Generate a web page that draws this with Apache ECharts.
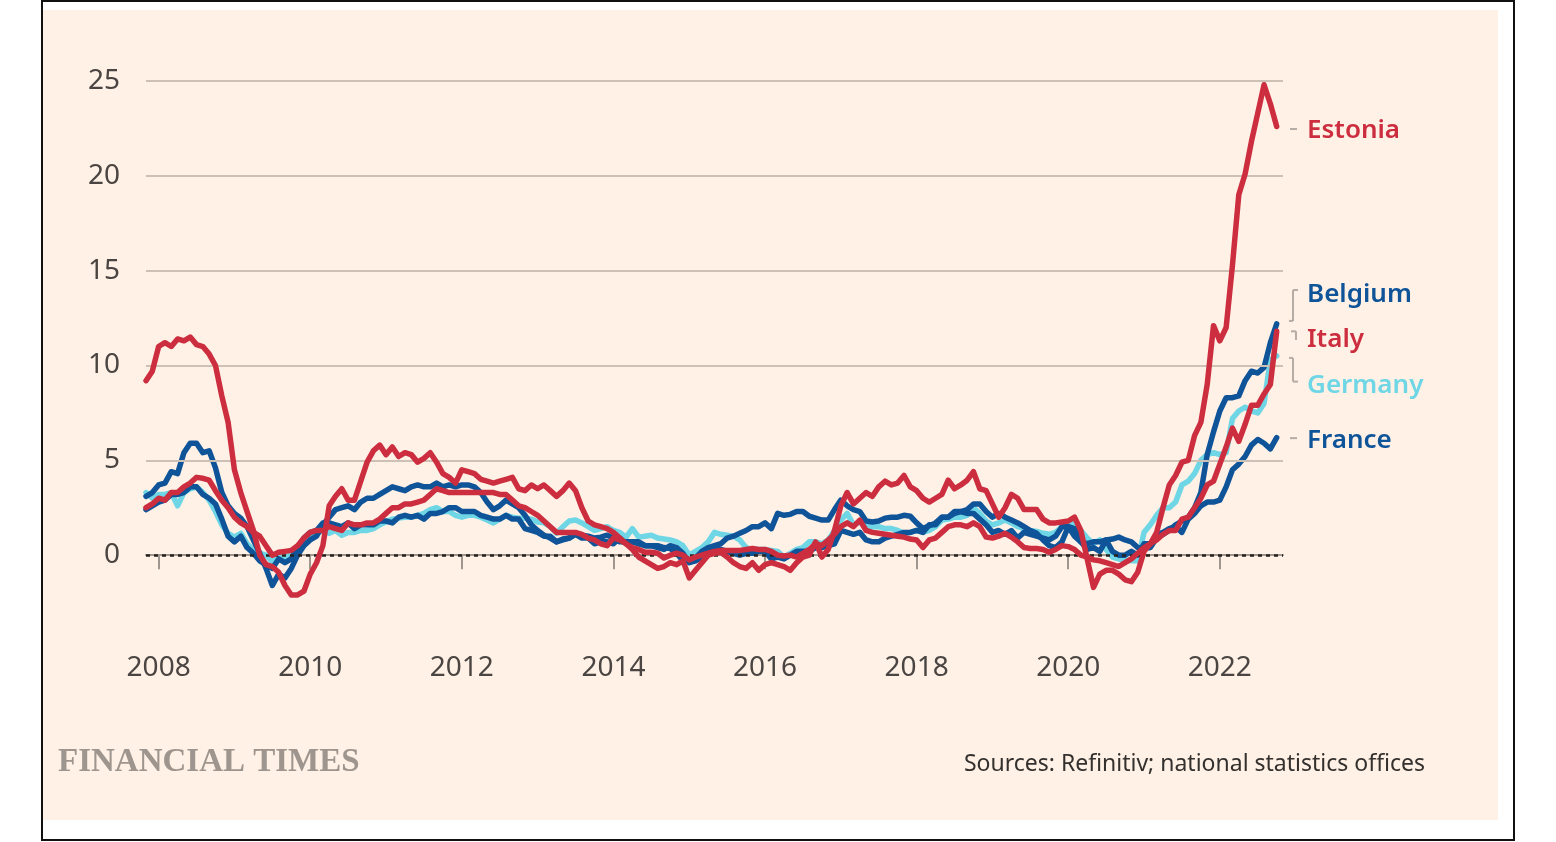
<!DOCTYPE html>
<html><head><meta charset="utf-8">
<script src="https://cdn.jsdelivr.net/npm/echarts@6/dist/echarts.min.js"></script>
<style>
html,body{margin:0;padding:0;width:1556px;height:842px;background:#fff;overflow:hidden}
#frame{position:absolute;left:41px;top:0;width:1474px;height:841px;box-sizing:border-box;border:2px solid #111;}
#paper{position:absolute;left:43px;top:10px;width:1455px;height:810px;background:#fff1e5}
#chart{position:absolute;left:0;top:0;width:1556px;height:842px}
</style></head>
<body><div id="frame"></div><div id="paper"></div><div id="chart"></div>
<script>
// First observation: November 2007, monthly to October 2022
const startYear = 2007, startMonth = 11;

const estonia = [
  9.2, 9.7,
  11.0, 11.2, 11.0, 11.4, 11.3, 11.5, 11.1, 11.0, 10.6, 10.0, 8.4, 7.0,
  4.5, 3.3, 2.3, 1.3, 0.0, -0.5, -0.6, -0.9, -1.6, -2.1, -2.1, -1.9,
  -1.0, -0.4, 0.5, 2.6, 3.1, 3.5, 2.9, 2.9, 3.9, 4.9, 5.5, 5.8,
  5.3, 5.7, 5.2, 5.4, 5.3, 4.9, 5.1, 5.4, 4.9, 4.3, 4.1, 3.8,
  4.5, 4.4, 4.3, 4.0, 3.9, 3.8, 3.9, 4.0, 4.1, 3.5, 3.4, 3.7,
  3.5, 3.7, 3.4, 3.1, 3.4, 3.8, 3.4, 2.5, 1.8, 1.6, 1.5, 1.4,
  1.2, 0.9, 0.6, 0.3, -0.1, -0.3, -0.5, -0.7, -0.6, -0.4, -0.5, -0.3,
  -1.2, -0.8, -0.4, 0.0, 0.1, 0.15, -0.1, -0.4, -0.6, -0.7, -0.4, -0.8,
  -0.5, -0.4, -0.5, -0.6, -0.8, -0.4, -0.1, 0.0, 0.7, -0.1, 0.3, 1.3,
  2.6, 3.3, 2.7, 3.0, 3.3, 3.1, 3.6, 3.9, 3.7, 3.8, 4.2, 3.6,
  3.4, 3.0, 2.8, 3.0, 3.2, 3.95, 3.5, 3.7, 3.95, 4.4, 3.5, 3.4,
  2.7, 2.0, 2.5, 3.2, 3.0, 2.4, 2.4, 2.4, 1.9, 1.7, 1.7, 1.75,
  1.8, 2.0, 1.3, -0.2, -1.7, -1.0, -0.8, -0.8, -1.0, -1.3, -1.4, -0.9,
  0.2, 0.6, 1.2, 2.5, 3.7, 4.2, 4.9, 5.0, 6.3, 7.0, 9.0, 12.1,
  11.3, 12.0, 15.3, 19.0, 20.1, 21.8, 23.3, 24.8, 23.8, 22.6
];
const italy = [
  2.5, 2.7,
  3.0, 2.9, 3.3, 3.3, 3.6, 3.8, 4.1, 4.05, 3.95, 3.4, 2.9, 2.5,
  2.0, 1.7, 1.5, 1.2, 1.0, 0.5, 0.0, 0.15, 0.2, 0.25, 0.5, 0.9,
  1.2, 1.3, 1.3, 1.5, 1.4, 1.3, 1.7, 1.6, 1.6, 1.7, 1.7, 1.9,
  2.2, 2.5, 2.5, 2.7, 2.7, 2.8, 2.9, 3.2, 3.5, 3.4, 3.3, 3.3,
  3.3, 3.3, 3.3, 3.3, 3.3, 3.3, 3.2, 3.2, 2.9, 2.6, 2.5, 2.3,
  2.1, 1.8, 1.5, 1.2, 1.2, 1.2, 1.2, 1.1, 0.9, 0.8, 0.6, 0.5,
  0.9, 0.8, 0.6, 0.4, 0.3, 0.15, 0.15, 0.1, -0.15, 0.0, 0.1, 0.0,
  -0.25, -0.1, 0.0, 0.1, 0.2, 0.25, 0.25, 0.25, 0.25, 0.3, 0.35, 0.3,
  0.3, 0.2, 0.0, -0.05, 0.0, -0.1, 0.1, 0.3, 0.6, 0.5, 0.8, 1.1,
  1.5, 1.7, 1.5, 1.85, 1.3, 1.2, 1.15, 1.1, 1.05, 1.0, 0.95, 0.85,
  0.8, 0.4, 0.8, 0.9, 1.2, 1.5, 1.6, 1.6, 1.5, 1.7, 1.5, 0.95,
  0.9, 1.0, 1.15, 0.95, 0.7, 0.4, 0.35, 0.35, 0.3, 0.15, 0.3, 0.5,
  0.45, 0.3, 0.0, -0.1, -0.25, -0.3, -0.4, -0.5, -0.6, -0.4, -0.2, 0.1,
  0.4, 0.6, 0.8, 1.1, 1.3, 1.3, 1.9, 2.0, 2.5, 3.0, 3.7, 3.9,
  4.8, 5.7, 6.7, 6.0, 6.9, 7.9, 7.9, 8.5, 9.0, 11.8
];
const belgium = [
  3.1, 3.3,
  3.7, 3.8, 4.4, 4.3, 5.4, 5.9, 5.9, 5.4, 5.5, 4.6, 3.3, 2.6,
  2.2, 1.95, 1.5, 0.8, 0.1, -0.7, -1.6, -1.0, -1.2, -0.7, 0.0, 0.5,
  0.8, 1.0, 1.6, 2.0, 2.4, 2.5, 2.6, 2.4, 2.8, 3.0, 3.0, 3.2,
  3.4, 3.6, 3.5, 3.4, 3.6, 3.7, 3.6, 3.6, 3.8, 3.6, 3.7, 3.6,
  3.7, 3.7, 3.6, 3.3, 2.8, 2.4, 2.6, 2.9, 2.7, 2.5, 2.1, 1.6,
  1.3, 1.05, 0.9, 0.7, 0.85, 0.9, 1.15, 1.05, 1.0, 0.9, 0.95, 1.05,
  0.9, 0.7, 0.7, 0.7, 0.6, 0.5, 0.5, 0.5, 0.4, 0.35, 0.1, -0.3,
  -0.3, -0.15, 0.2, 0.4, 0.5, 0.6, 0.9, 1.0, 1.15, 1.3, 1.5, 1.5,
  1.7, 1.4, 2.2, 2.1, 2.15, 2.3, 2.3, 2.05, 1.95, 1.85, 1.85, 2.4,
  2.9, 2.6, 2.4, 2.3, 1.8, 1.75, 1.8, 1.95, 2.0, 2.0, 2.1, 2.05,
  1.7, 1.4, 1.55, 1.7, 2.0, 2.0, 2.2, 2.3, 2.4, 2.7, 2.7, 2.3,
  2.0, 2.2, 2.0, 1.85, 1.7, 1.5, 1.3, 1.15, 0.8, 0.5, 0.4, 0.7,
  1.5, 1.0, 0.7, 0.6, 0.7, 0.7, 0.8, 0.85, 0.95, 0.8, 0.7, 0.4,
  0.35, 0.4, 0.9, 1.1, 1.3, 1.6, 1.8, 2.0, 2.5, 3.3, 5.3, 6.5,
  7.6, 8.3, 8.3, 8.4, 9.2, 9.7, 9.6, 9.9, 11.2, 12.2
];
const france = [
  2.4, 2.6,
  2.8, 2.9, 3.2, 3.2, 3.3, 3.6, 3.6, 3.2, 3.0, 2.7, 1.9, 1.0,
  0.7, 1.0, 0.4, 0.1, -0.3, -0.5, -0.7, -0.2, -0.4, -0.2, 0.4, 0.9,
  1.2, 1.3, 1.7, 1.7, 1.6, 1.5, 1.7, 1.4, 1.6, 1.6, 1.6, 1.8,
  1.8, 1.7, 2.0, 2.1, 2.0, 2.1, 1.9, 2.2, 2.2, 2.3, 2.5, 2.5,
  2.3, 2.3, 2.3, 2.1, 2.0, 1.9, 1.9, 2.1, 1.9, 1.9, 1.4, 1.3,
  1.2, 1.0, 1.0, 0.7, 0.8, 0.9, 1.1, 0.9, 0.9, 0.6, 0.7, 0.7,
  0.6, 0.9, 0.6, 0.7, 0.7, 0.5, 0.5, 0.4, 0.3, 0.5, 0.4, 0.1,
  -0.4, -0.3, -0.1, 0.1, 0.3, 0.3, 0.2, 0.1, 0.0, 0.1, 0.1, 0.2,
  0.2, -0.2, -0.1, -0.2, 0.0, 0.2, 0.2, 0.2, 0.4, 0.4, 0.5, 0.6,
  1.3, 1.2, 1.1, 1.2, 0.8, 0.7, 0.7, 0.9, 1.0, 1.1, 1.2, 1.2,
  1.3, 1.2, 1.6, 1.6, 2.0, 2.0, 2.3, 2.3, 2.2, 2.2, 1.9, 1.6,
  1.2, 1.3, 1.1, 1.3, 0.9, 1.2, 1.1, 1.0, 0.9, 0.8, 1.0, 1.5,
  1.5, 1.4, 0.7, 0.3, 0.4, 0.2, 0.8, 0.2, 0.0, 0.0, 0.2, 0.0,
  0.6, 0.6, 1.1, 1.2, 1.4, 1.5, 1.2, 1.9, 2.2, 2.6, 2.8, 2.8,
  2.9, 3.6, 4.5, 4.8, 5.2, 5.8, 6.1, 5.9, 5.6, 6.2
];
const germany = [
  3.3, 3.0,
  3.2, 3.2, 3.3, 2.6, 3.3, 3.5, 3.6, 3.3, 2.9, 2.3, 1.6, 1.15,
  0.95, 1.15, 0.6, 0.25, 0.1, 0.0, -0.35, -0.1, -0.25, 0.1, 0.4, 0.7,
  0.95, 1.15, 1.3, 1.15, 1.3, 1.05, 1.2, 1.2, 1.3, 1.3, 1.4, 1.6,
  1.75, 1.9, 1.95, 2.0, 2.0, 2.1, 2.2, 2.4, 2.5, 2.3, 2.3, 2.1,
  2.0, 2.1, 2.1, 2.0, 1.85, 1.7, 1.9, 2.1, 2.0, 1.95, 1.95, 1.9,
  1.75, 1.7, 1.5, 1.15, 1.5, 1.8, 1.85, 1.7, 1.5, 1.3, 1.4, 1.5,
  1.3, 1.2, 0.95, 1.4, 0.95, 1.0, 1.05, 0.9, 0.85, 0.8, 0.7, 0.5,
  0.0, 0.2, 0.4, 0.7, 1.2, 1.1, 1.05, 1.0, 0.8, 0.4, 0.3, 0.3,
  0.3, 0.25, 0.2, -0.1, 0.1, 0.3, 0.4, 0.7, 0.7, 0.6, 0.8, 1.3,
  1.85, 2.2, 1.6, 1.75, 1.5, 1.5, 1.5, 1.4, 1.4, 1.3, 1.15, 1.2,
  1.3, 1.2, 1.3, 1.5, 1.85, 1.9, 2.0, 2.0, 2.1, 2.5, 2.2, 1.8,
  1.6, 1.7, 1.85, 1.7, 1.5, 1.4, 1.3, 1.25, 1.15, 1.1, 1.2, 1.5,
  1.6, 1.7, 1.3, 0.9, 0.6, 0.8, 0.3, -0.1, -0.2, -0.25, -0.3, -0.3,
  1.2, 1.6, 2.1, 2.5, 2.5, 2.8, 3.7, 3.9, 4.3, 5.0, 5.3, 5.4,
  5.3, 5.4, 7.2, 7.6, 7.8, 7.6, 7.5, 8.0, 10.3, 10.5
];

const yearTicks = [2008, 2010, 2012, 2014, 2016, 2018, 2020, 2022];
const valueTicks = [0, 5, 10, 15, 20, 25];
const gridValues = [5, 10, 15, 20, 25];
const zeroValue = 0;

// Right-hand labels and the values they sit at
const labelNames = ['Estonia', 'Belgium', 'Italy', 'Germany', 'France'];
const labelValues = [22.47, 13.82, 11.45, 9.07, 6.17];

const RED = '#cc2e40', DARK = '#0f5499', LIGHT = '#6fd6e6';
const TXT = '#4a4542';

function toXY(arr) {
  const t0 = startYear + (startMonth - 1) / 12;
  return arr.map((v, i) => [t0 + i / 12, v]);
}
const xMin = startYear + (startMonth - 1) / 12;
const xMax = xMin + 15;

const chart = echarts.init(document.getElementById('chart'), null, {renderer: 'canvas'});
const lineSeries = (name, data, color, z) => ({
  name, type: 'line', data: toXY(data), showSymbol: false, symbol: 'none',
  z, lineStyle: {color, width: 5.5, cap: 'round', join: 'round'}, animation: false, silent: true
});

chart.setOption({
  animation: false,
  backgroundColor: 'transparent',
  grid: {left: 146, right: 273, top: 81, bottom: 211, containLabel: false},
  xAxis: {
    type: 'value', min: xMin, max: xMax,
    axisLine: {show: true, lineStyle: {color: '#9f968f', width: 2}},
    axisTick: {show: true, customValues: yearTicks, length: 14, lineStyle: {color: '#9f968f', width: 2}},
    axisLabel: {customValues: yearTicks, formatter: v => String(Math.round(v)), fontSize: 28,
      fontFamily: 'Noto Sans', color: TXT, margin: 23},
    splitLine: {show: false}
  },
  yAxis: {
    type: 'value', min: -4, max: 25,
    axisLine: {show: false}, axisTick: {show: false}, splitLine: {show: false},
    axisLabel: {customValues: valueTicks, fontSize: 28, fontFamily: 'Noto Sans', color: TXT, margin: 26}
  },
  series: [
    {
      name: 'grid', type: 'line', data: [], z: 1, silent: true,
      markLine: {
        silent: true, symbol: 'none', label: {show: false}, animation: false,
        data: gridValues.map(v => ({yAxis: v, lineStyle: {color: '#cdc1b6', width: 2, type: 'solid'}}))
          .concat([{yAxis: zeroValue, lineStyle: {color: '#262220', width: 2.5, type: [4, 4]}}])
      }
    },
    lineSeries('Germany', germany, LIGHT, 2),
    lineSeries('France', france, DARK, 3),
    lineSeries('Belgium', belgium, DARK, 4),
    lineSeries('Italy', italy, RED, 5),
    lineSeries('Estonia', estonia, RED, 6)
  ]
});

// Annotations (labels with leader lines), positioned from axis values
const yPix = v => chart.convertToPixel({gridIndex: 0}, [xMin, v])[1];
const labelColors = {Estonia: RED, Belgium: DARK, Italy: RED, Germany: LIGHT, France: DARK};
const LEAD = '#b5aca5';
const g = [];
labelNames.forEach((n, i) => {
  g.push({type: 'text', left: 1307, top: yPix(labelValues[i]) - 11, z: 10,
    style: {text: n, fill: labelColors[n], font: '600 26px "Noto Sans"'}});
});
const ln = (x1, y1, x2, y2) => ({type: 'line', z: 10, shape: {x1, y1, x2, y2},
  style: {stroke: LEAD, lineWidth: 2}});
const yE = yPix(22.47), yF = yPix(6.17);
g.push(ln(1290, yE, 1297, yE));
g.push(ln(1290, yF, 1297, yF));
// Belgium bracket
const b1 = yPix(13.98), b2 = yPix(12.35);
g.push(ln(1293, b1, 1298, b1), ln(1293, b1, 1293, b2), ln(1289, b2, 1293, b2));
// Italy bracket
const i1 = yPix(11.8), i2 = yPix(11.35);
g.push(ln(1291, i1, 1296, i1), ln(1296, i1, 1296, i2));
// Germany bracket
const d1 = yPix(10.4), d2 = yPix(9.15);
g.push(ln(1289, d1, 1293, d1), ln(1293, d1, 1293, d2), ln(1293, d2, 1298, d2));
// Footer texts
g.push({type: 'text', left: 58, top: 746, z: 10,
  style: {text: 'FINANCIAL TIMES', fill: '#9e958e', font: 'bold 33px "Liberation Serif"'}});
g.push({type: 'text', right: 131, top: 753, z: 10,
  style: {text: 'Sources: Refinitiv; national statistics offices', fill: '#33302e', font: '23px "Noto Sans"'}});
chart.setOption({graphic: g});
</script>
</body></html>
